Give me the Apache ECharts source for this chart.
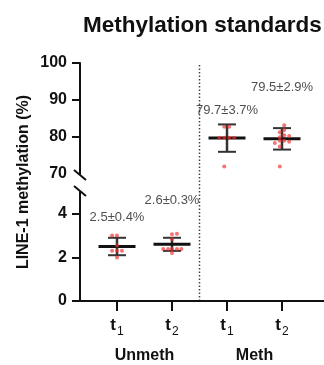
<!DOCTYPE html>
<html>
<head>
<meta charset="utf-8">
<script src="https://cdn.jsdelivr.net/npm/echarts@6/dist/echarts.min.js"></script>
<style>
  html, body { margin: 0; padding: 0; background: #fff; }
  #chart { width: 324px; height: 365px; }
</style>
</head>
<body>
<div id="chart"></div>
<script>
const FONT = '"Liberation Sans", Arial, sans-serif'

// categories at x = 1..4
const categories = ['t1', 't2', 't1', 't2']
const groupNames = ['Unmeth', 'Meth']
const means = [2.5, 2.6, 79.7, 79.5]
const sds = [0.4, 0.3, 3.7, 2.9]
const statLabels = ['2.5±0.4%', '2.6±0.3%', '79.7±3.7%', '79.5±2.9%']
const statLabelLevels = [3.82, 4.63, 87.3, 93.4]

// individual points: [x offset from category, value]
const unmethT1 = [[-0.09, 3.0], [0, 3.0], [0, 2.55], [-0.09, 2.3], [0, 2.3], [0.09, 2.3], [0, 2.0]]
const unmethT2 = [[0, 3.06], [0.09, 3.09], [0, 2.83], [-0.16, 2.38], [-0.07, 2.38], [0, 2.38], [0.09, 2.38], [0.17, 2.38], [0, 2.2]]
const methT1 = [[-0.05, 82.8], [0.04, 82.8], [-0.14, 79.8], [-0.05, 79.8], [0.04, 79.8], [0.13, 79.8], [-0.05, 72.0]]
const methT2 = [[0.04, 83.2], [0.04, 81.9], [-0.04, 81.3], [0.04, 80.5], [0.13, 80.3], [-0.04, 79.9],
  [-0.04, 79.0], [-0.13, 78.4], [0.04, 79.0], [0.13, 78.7], [-0.04, 77.4], [-0.04, 72.0]]

const upperTicks = [80, 90, 100]
const upperLabels = [70, 80, 90, 100]
const lowerTicks = [0, 2, 4]

const X_MIN = 1 - 37 / 55
const X_MAX = 4 + 42 / 55

const shift = (pts, cx) => pts.map(p => [cx + p[0], p[1]])

function barItem(params, api) {
  const x = api.value(0), m = api.value(1), s = api.value(2)
  const c = api.coord([x, m])
  const top = api.coord([x, m + s])
  const bot = api.coord([x, m - s])
  return {
    type: 'group',
    children: [
      { type: 'line', shape: { x1: c[0], y1: top[1], x2: c[0], y2: bot[1] }, style: { stroke: '#333', lineWidth: 2.5 } },
      { type: 'line', shape: { x1: c[0] - 9, y1: top[1], x2: c[0] + 9, y2: top[1] }, style: { stroke: '#333', lineWidth: 2 } },
      { type: 'line', shape: { x1: c[0] - 9, y1: bot[1], x2: c[0] + 9, y2: bot[1] }, style: { stroke: '#333', lineWidth: 2 } },
      { type: 'line', shape: { x1: c[0] - 18.5, y1: c[1], x2: c[0] + 18.5, y2: c[1] }, style: { stroke: '#111', lineWidth: 3 } }
    ]
  }
}

const statData = means.map((m, i) => [i + 1, m, sds[i]])
const labelData = statLabelLevels.map((v, i) => ({ value: [i + 1, v], text: statLabels[i] }))

const axisLineStyle = { show: true, lineStyle: { color: '#111', width: 2 } }
const yLabelStyle = { color: '#111', fontSize: 16, fontWeight: 'bold', fontFamily: FONT, margin: 13 }

const pointStyle = { color: 'rgba(240, 50, 50, 0.85)' }

const chart = echarts.init(document.getElementById('chart'))
chart.setOption({
  animation: false,
  title: {
    text: 'Methylation standards',
    left: 78,
    top: 9,
    textStyle: { color: '#111', fontSize: 22.5, fontWeight: 'bold', fontFamily: FONT }
  },
  grid: [
    { left: 80, right: 0, top: 63, height: 111 },
    { left: 80, right: 0, top: 192, height: 111 }
  ],
  xAxis: [
    { type: 'value', gridIndex: 0, min: X_MIN, max: X_MAX, show: false },
    {
      type: 'value', gridIndex: 1, min: X_MIN, max: X_MAX,
      axisLine: axisLineStyle,
      axisTick: { show: true, customValues: [1, 2, 3, 4], length: 10, lineStyle: { color: '#111', width: 2 } },
      axisLabel: {
        customValues: [1, 2, 3, 4],
        margin: 13,
        formatter: v => '{t|t}{s|' + categories[Math.round(v) - 1].slice(1) + '}',
        rich: {
          t: { fontSize: 17, fontWeight: 'bold', color: '#111', fontFamily: FONT, lineHeight: 20, verticalAlign: 'bottom' },
          s: { fontSize: 12, color: '#111', fontFamily: FONT, lineHeight: 14, verticalAlign: 'bottom', padding: [0, 0, -4, 1] }
        }
      },
      splitLine: { show: false }
    },
    {
      type: 'value', gridIndex: 1, min: X_MIN, max: X_MAX, position: 'bottom',
      axisLine: { show: false },
      axisTick: { show: false },
      axisLabel: {
        customValues: [1.5, 3.5],
        margin: 46,
        formatter: v => groupNames[v < 2.5 ? 0 : 1],
        color: '#111', fontSize: 16, fontWeight: 'bold', fontFamily: FONT, lineHeight: 18
      },
      splitLine: { show: false }
    }
  ],
  yAxis: [
    {
      type: 'value', gridIndex: 0, min: 70, max: 100, interval: 10,
      axisLine: axisLineStyle,
      axisTick: { show: true, customValues: upperTicks, length: 8, lineStyle: { color: '#111', width: 2 } },
      axisLabel: Object.assign({ customValues: upperLabels }, yLabelStyle),
      splitLine: { show: false }
    },
    {
      type: 'value', gridIndex: 1, min: 0, max: 5,
      axisLine: axisLineStyle,
      axisTick: { show: true, customValues: lowerTicks, length: 8, lineStyle: { color: '#111', width: 2 } },
      axisLabel: Object.assign({ customValues: lowerTicks }, yLabelStyle),
      splitLine: { show: false }
    }
  ],
  series: [
    { type: 'custom', xAxisIndex: 1, yAxisIndex: 1, renderItem: barItem, data: statData.slice(0, 2), z: 2 },
    { type: 'custom', xAxisIndex: 0, yAxisIndex: 0, renderItem: barItem, data: statData.slice(2), z: 2 },
    {
      type: 'scatter', xAxisIndex: 1, yAxisIndex: 1, symbolSize: 4, itemStyle: pointStyle, z: 3,
      data: shift(unmethT1, 1).concat(shift(unmethT2, 2))
    },
    {
      type: 'scatter', xAxisIndex: 0, yAxisIndex: 0, symbolSize: 4, itemStyle: pointStyle, z: 3,
      data: shift(methT1, 3).concat(shift(methT2, 4))
    },
    {
      type: 'scatter', xAxisIndex: 1, yAxisIndex: 1, symbolSize: 0, silent: true,
      data: labelData.slice(0, 2),
      label: { show: true, position: 'inside', formatter: p => p.data.text, color: '#222', fontSize: 13, fontFamily: FONT }
    },
    {
      type: 'scatter', xAxisIndex: 0, yAxisIndex: 0, symbolSize: 0, silent: true,
      data: labelData.slice(2),
      label: { show: true, position: 'inside', formatter: p => p.data.text, color: '#222', fontSize: 13, fontFamily: FONT }
    }
  ]
})

// decorations placed from axis positions: divider, axis break marks, y-axis title
const divX = chart.convertToPixel({ xAxisIndex: 0 }, 2.5)
const axX = chart.convertToPixel({ xAxisIndex: 0 }, X_MIN)
const yTop = chart.convertToPixel({ yAxisIndex: 0 }, 100)
const yUpperEnd = chart.convertToPixel({ yAxisIndex: 0 }, 70)
const yLowerTop = chart.convertToPixel({ yAxisIndex: 1 }, 5)
const yZero = chart.convertToPixel({ yAxisIndex: 1 }, 0)

const slash = cy => ({
  type: 'line',
  shape: { x1: axX - 6, y1: cy - 5, x2: axX + 6, y2: cy + 5 },
  style: { stroke: '#111', lineWidth: 2 }
})

chart.setOption({
  graphic: [
    {
      type: 'line',
      shape: { x1: divX, y1: yTop + 2, x2: divX, y2: yZero },
      style: { stroke: '#444', lineWidth: 1.5, lineDash: [1.5, 2] }
    },
    slash(yUpperEnd + 1),
    slash(yLowerTop - 1),
    {
      type: 'text',
      x: 24,
      y: (yTop + yZero) / 2,
      rotation: Math.PI / 2,
      style: {
        text: 'LINE-1 methylation (%)',
        fill: '#111',
        font: 'bold 16px ' + FONT,
        textAlign: 'center',
        textVerticalAlign: 'middle'
      }
    }
  ]
})
</script>
</body>
</html>
